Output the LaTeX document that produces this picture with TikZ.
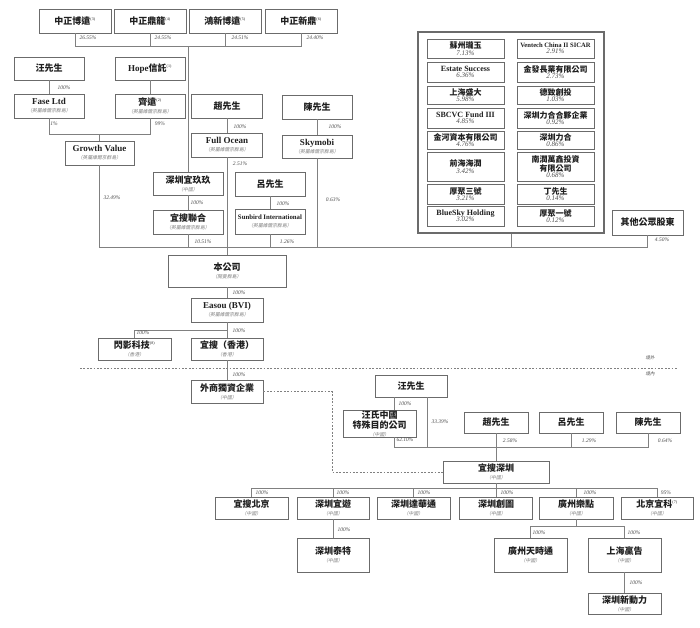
\documentclass[tikz,border=0pt]{standalone}
\usepackage{fontspec}
\setmainfont{Liberation Serif}
\newfontfamily\cjk{Noto Sans CJK TC}
\newfontfamily\cjksl{Noto Sans CJK TC}[FakeSlant=0.2]
\definecolor{boxc}{gray}{0.42}
\definecolor{linec}{gray}{0.5}
\definecolor{txtc}{gray}{0.12}
\definecolor{pctc}{gray}{0.3}
\definecolor{subc}{gray}{0.5}
\newcommand\zh[1]{{\cjk\bfseries #1}}
\newcommand\spx[1]{\textsuperscript{\fontsize{4}{4}\selectfont(#1)}}
\newcommand\subl[1]{\\[-2pt]{\cjksl\fontsize{4.8}{5}\selectfont\color{subc}（#1）}}
\newcommand\ipc[1]{\\[-2.5pt]{\itshape\color{pctc}\fontsize{7}{7}\selectfont #1}}
\tikzset{
  x=1pt,y=-1pt,
  bx/.style={draw=boxc,line width=0.8pt,fill=white,align=center,inner sep=1pt,
    font=\fontsize{9}{10}\selectfont,text=txtc},
  ib/.style={draw=boxc,line width=0.7pt,fill=white,align=center,inner sep=0.5pt,
    minimum width=77,font=\fontsize{8}{9}\selectfont,text=txtc},
  ln/.style={draw=linec,line width=0.8pt},
  dsh/.style={draw=linec,line width=0.8pt,dash pattern=on 1.8pt off 1.6pt},
  pct/.style={font=\fontsize{5.5}{6}\selectfont\itshape,text=pctc,inner sep=0.5pt},
  zone/.style={font=\cjksl\fontsize{4.5}{5}\selectfont,text=pctc,inner sep=0.5pt},
}
\begin{document}
\begin{tikzpicture}
\useasboundingbox[fill=white] (0,0) rectangle (700,627);
% ---------- top shareholders
\node[bx,minimum width=72,minimum height=24] (t1) at (75,21) {\zh{中正博遠}\spx{3}};
\node[bx,minimum width=72,minimum height=24] (t2) at (150,21) {\zh{中正鼎龍}\spx{4}};
\node[bx,minimum width=72,minimum height=24] (t3) at (225,21) {\zh{鴻新博遠}\spx{5}};
\node[bx,minimum width=72,minimum height=24] (t4) at (301,21) {\zh{中正新鼎}\spx{6}};
\node[bx,minimum width=70,minimum height=23] (w1) at (49,68.5) {\zh{汪先生}};
\node[bx,minimum width=70,minimum height=23] (h1) at (150,68.5) {\textbf{Hope}\zh{信託}\spx{1}};
\node[bx,minimum width=70,minimum height=24] (f1) at (49,106) {\textbf{Fase Ltd}\subl{英屬維爾京群島}};
\node[bx,minimum width=70,minimum height=24] (q1) at (150,106) {\zh{齊遠}\spx{2}\subl{英屬維爾京群島}};
\node[bx,minimum width=69,minimum height=24] (gv) at (99.5,153) {\textbf{Growth Value}\subl{英屬維爾京群島}};
\node[bx,minimum width=71,minimum height=24] (zs) at (227,106) {\zh{趙先生}};
\node[bx,minimum width=71,minimum height=24] (fo) at (227,145) {\textbf{Full Ocean}\subl{英屬維爾京群島}};
\node[bx,minimum width=70,minimum height=24] (cs) at (317,107) {\zh{陳先生}};
\node[bx,minimum width=70,minimum height=23] (sk) at (317,146.5) {\textbf{Skymobi}\subl{英屬維爾京群島}};
\node[bx,minimum width=70,minimum height=23] (sy) at (188,183.5) {\zh{深圳宜玖玖}\subl{中國}};
\node[bx,minimum width=70,minimum height=24] (yl) at (188,222) {\zh{宜搜聯合}\subl{英屬維爾京群島}};
\node[bx,minimum width=70,minimum height=24] (lv) at (270,184) {\zh{呂先生}};
\node[bx,minimum width=70,minimum height=25] (sb) at (270,221.5) {{\fontsize{6.8}{8}\selectfont\textbf{Sunbird International}}\subl{英屬維爾京群島}};
% ---------- big box
\node[draw=boxc,line width=1.3pt,minimum width=186,minimum height=201,inner sep=0] (big) at (511,132.5) {};
\node[ib,minimum height=19] (g1) at (465.5,48.5) {\zh{蘇州瓏玉}\ipc{7.13\%}};
\node[ib,minimum height=20] (g2) at (465.5,72) {\textbf{Estate Success}\ipc{6.36\%}};
\node[ib,minimum height=18] (g3) at (465.5,95) {\zh{上海盛大}\ipc{5.98\%}};
\node[ib,minimum height=20] (g4) at (465.5,118) {\textbf{SBCVC Fund III}\ipc{4.85\%}};
\node[ib,minimum height=18] (g5) at (465.5,140) {\zh{金河資本有限公司}\ipc{4.76\%}};
\node[ib,minimum height=29] (g6) at (465.5,166.5) {\zh{前海海潤}\ipc{3.42\%}};
\node[ib,minimum height=20] (g7) at (465.5,194) {\zh{厚聚三號}\ipc{3.21\%}};
\node[ib,minimum height=20] (g8) at (465.5,216) {\textbf{BlueSky Holding}\ipc{3.02\%}};
\node[ib,minimum height=19] (k1) at (555.5,48.5) {{\fontsize{6.6}{8}\selectfont\textbf{Ventech China II SICAR}}\ipc{2.91\%}};
\node[ib,minimum height=20] (k2) at (555.5,72) {\zh{金發長業有限公司}\ipc{2.73\%}};
\node[ib,minimum height=18] (k3) at (555.5,95) {\zh{德致創投}\ipc{1.03\%}};
\node[ib,minimum height=20] (k4) at (555.5,118) {\zh{深圳力合合夥企業}\ipc{0.92\%}};
\node[ib,minimum height=18] (k5) at (555.5,140) {\zh{深圳力合}\ipc{0.86\%}};
\node[ib,minimum height=29] (k6) at (555.5,166.5) {\zh{南潤萬鑫投資}\\[0pt]\zh{有限公司}\ipc{0.68\%}};
\node[ib,minimum height=20] (k7) at (555.5,194) {\zh{丁先生}\ipc{0.14\%}};
\node[ib,minimum height=20] (k8) at (555.5,216) {\zh{厚聚一號}\ipc{0.12\%}};
\node[bx,minimum width=71,minimum height=25] (op) at (647.5,222.5) {\zh{其他公眾股東}};
% ---------- company and offshore
\node[bx,minimum width=118,minimum height=32] (bg) at (227,271) {\zh{本公司}\subl{開曼群島}};
\node[bx,minimum width=72,minimum height=24] (ea) at (227,310) {\textbf{Easou (BVI)}\subl{英屬維爾京群島}};
\node[bx,minimum width=73,minimum height=22] (sy2) at (134.5,349) {\zh{閃影科技}\spx{8}\subl{香港}};
\node[bx,minimum width=72,minimum height=22] (hk) at (227,349) {\zh{宜搜（香港）}\subl{香港}};
\node[bx,minimum width=72,minimum height=23] (wf) at (227,391.5) {\zh{外商獨資企業}\subl{中國}};
% ---------- onshore
\node[bx,minimum width=72,minimum height=22] (wl) at (411,386) {\zh{汪先生}};
\node[bx,minimum width=73,minimum height=25,inner sep=0.5pt] (ws) at (379.5,423.5) {\zh{汪氏中國}\\[0pt]\zh{特殊目的公司}\subl{中國}};
\node[bx,minimum width=64,minimum height=21] (zl) at (496,422.5) {\zh{趙先生}};
\node[bx,minimum width=64,minimum height=21] (ll) at (571,422.5) {\zh{呂先生}};
\node[bx,minimum width=64,minimum height=21] (cl) at (648,422.5) {\zh{陳先生}};
\node[bx,minimum width=106,minimum height=22] (ys) at (496,472) {\zh{宜搜深圳}\subl{中國}};
\node[bx,minimum width=73,minimum height=22] (b1) at (251.5,508) {\zh{宜搜北京}\subl{中國}};
\node[bx,minimum width=72,minimum height=22] (b2) at (333,508) {\zh{深圳宜遊}\subl{中國}};
\node[bx,minimum width=73,minimum height=22] (b3) at (413.5,508) {\zh{深圳達華通}\subl{中國}};
\node[bx,minimum width=73,minimum height=22] (b4) at (496,508) {\zh{深圳創圖}\subl{中國}};
\node[bx,minimum width=74,minimum height=22] (b5) at (576,508) {\zh{廣州樂點}\subl{中國}};
\node[bx,minimum width=72,minimum height=22] (b6) at (657,508) {\zh{北京宜科}\spx{7}\subl{中國}};
\node[bx,minimum width=72,minimum height=34] (c1) at (333,555) {\zh{深圳泰特}\subl{中國}};
\node[bx,minimum width=73,minimum height=34] (c2) at (530.5,555) {\zh{廣州天時通}\subl{中國}};
\node[bx,minimum width=73,minimum height=34] (c3) at (624.5,555) {\zh{上海贏告}\subl{中國}};
\node[bx,minimum width=73,minimum height=21] (d1) at (624.5,603.5) {\zh{深圳新動力}\subl{中國}};
% ---------- helper coordinates
\coordinate (yA) at (0,46);
\coordinate (yB) at (0,134);
\coordinate (yC) at (0,247);
\coordinate (yD) at (0,330);
\coordinate (yE) at (0,447);
\coordinate (yF) at (0,488);
\coordinate (yG) at (0,526);
\coordinate (xW1) at (394,0);
\coordinate (xW2) at (427,0);
\coordinate (xD) at (332,0);
\coordinate (dl) at (80,368);
\coordinate (dr) at (677,368);
% ---------- connectors
\draw[ln] (t1.south) -- (t1.south|-yA) -- (t4.south|-yA) -- (t4.south);
\draw[ln] (t2.south) -- (t2.south|-yA);
\draw[ln] (t3.south) -- (t3.south|-yA);
\draw[ln] (sy.north) -- (sy.north|-yA);
\draw[ln] (w1) -- (f1);
\draw[ln] (h1) -- (q1);
\draw[ln] (f1.south) -- (f1.south|-yB) -- (q1.south|-yB) -- (q1.south);
\draw[ln] (gv.north) -- (gv.north|-yB);
\draw[ln] (gv.south) -- (gv.south|-yC) -- (op.south|-yC) -- (op.south);
\draw[ln] (zs) -- (fo);
\draw[ln] (fo) -- (bg);
\draw[ln] (cs) -- (sk);
\draw[ln] (sk.south) -- (sk.south|-yC);
\draw[ln] (sy) -- (yl);
\draw[ln] (yl.south) -- (yl.south|-yC);
\draw[ln] (lv) -- (sb);
\draw[ln] (sb.south) -- (sb.south|-yC);
\draw[ln] (big.south) -- (big.south|-yC);
\draw[ln] (bg) -- (ea);
\draw[ln] (ea) -- (hk);
\draw[ln] (ea.south|-yD) -| (sy2.north);
\draw[ln] (hk) -- (wf);
\draw[dsh] (dl) -- (dr);
\draw[dsh] (wf.east) -- (wf.east-|xD) |- (ys.west);
\draw[ln] (xW1|-wl.south) -- (xW1|-ws.north);
\draw[ln] (xW1|-ws.south) -- (xW1|-yE) -- (cl.south|-yE) -- (cl.south);
\draw[ln] (xW2|-wl.south) -- (xW2|-yE);
\draw[ln] (zl) -- (ys);
\draw[ln] (ll.south) -- (ll.south|-yE);
\draw[ln] (b1.north) -- (b1.north|-yF) -- (b6.north|-yF) -- (b6.north);
\draw[ln] (b2.north) -- (b2.north|-yF);
\draw[ln] (b3.north) -- (b3.north|-yF);
\draw[ln] (b5.north) -- (b5.north|-yF);
\draw[ln] (ys) -- (b4);
\draw[ln] (b2) -- (c1);
\draw[ln] (b5.south) -- (b5.south|-yG);
\draw[ln] (c2.north) -- (c2.north|-yG) -- (c3.north|-yG) -- (c3.north);
\draw[ln] (c3) -- (d1);
% ---------- percentages
\node[pct] (p1) at (88,38) {26.55\%};
\node[pct] (p2) at (163,38) {24.55\%};
\node[pct] (p3) at (240,38) {24.51\%};
\node[pct] (p4) at (315,38) {24.40\%};
\node[pct] (p5) at (64,88) {100\%};
\node[pct] (p6) at (54,124) {1\%};
\node[pct] (p7) at (160,124) {99\%};
\node[pct] (p8) at (112,198) {32.49\%};
\node[pct] (p9) at (240,127) {100\%};
\node[pct] (p10) at (240,164) {2.51\%};
\node[pct] (p11) at (335,127) {100\%};
\node[pct] (p12) at (333,200) {0.63\%};
\node[pct] (p13) at (197,203) {100\%};
\node[pct] (p14) at (203,242) {10.51\%};
\node[pct] (p15) at (283,204) {100\%};
\node[pct] (p16) at (287,242) {1.26\%};
\node[pct] (p17) at (662,240) {4.50\%};
\node[pct] (p18) at (239,293) {100\%};
\node[pct] (p19) at (143,333) {100\%};
\node[pct] (p20) at (239,331) {100\%};
\node[pct] (p21) at (239,375) {100\%};
\node[pct] (p22) at (405,404) {100\%};
\node[pct] (p23) at (405,440) {62.10\%};
\node[pct] (p24) at (440,422) {33.39\%};
\node[pct] (p25) at (510,441) {2.58\%};
\node[pct] (p26) at (589,441) {1.29\%};
\node[pct] (p27) at (665,441) {0.64\%};
\node[pct] (p28) at (262,493) {100\%};
\node[pct] (p29) at (343,493) {100\%};
\node[pct] (p30) at (424,493) {100\%};
\node[pct] (p31) at (507,493) {100\%};
\node[pct] (p32) at (590,493) {100\%};
\node[pct] (p33) at (666,493) {95\%};
\node[pct] (p34) at (344,530) {100\%};
\node[pct] (p35) at (539,533) {100\%};
\node[pct] (p36) at (634,533) {100\%};
\node[pct] (p37) at (636,583) {100\%};
\node[zone] (zo) at (650,358) {境外};
\node[zone] (zi) at (650,374) {境內};
\end{tikzpicture}
\end{document}
